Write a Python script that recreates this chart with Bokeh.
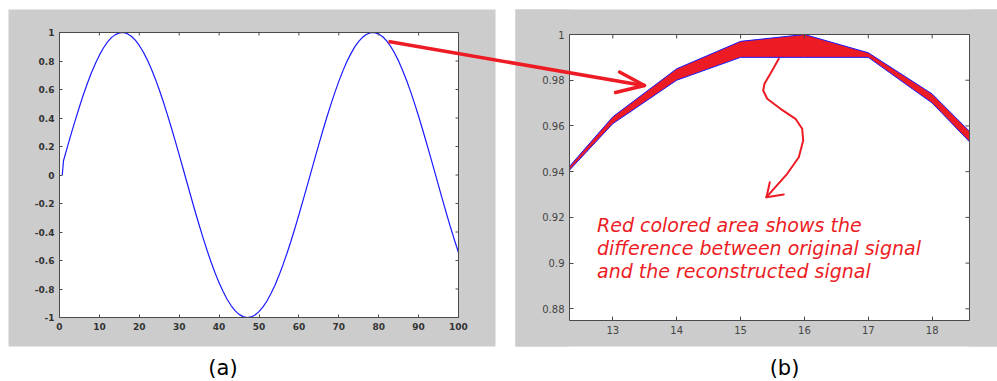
from bokeh.plotting import figure
from bokeh.models import FixedTicker, LinearAxis, Label, Range1d
from bokeh.embed import file_html
from bokeh.resources import INLINE

# ---------------- data ----------------
signal_x = [0.7] + list(range(1, 101))
signal_y = [0.0,
    0.100, 0.199, 0.296, 0.389, 0.479, 0.565, 0.644, 0.717, 0.783, 0.841,
    0.891, 0.932, 0.964, 0.985, 0.997, 1.000, 0.992, 0.974, 0.946, 0.909,
    0.863, 0.808, 0.746, 0.676, 0.598, 0.516, 0.427, 0.335, 0.239, 0.141,
    0.042, -0.058, -0.158, -0.256, -0.351, -0.443, -0.530, -0.612, -0.688, -0.757,
    -0.818, -0.872, -0.916, -0.952, -0.978, -0.994, -1.000, -0.996, -0.983, -0.959,
    -0.926, -0.884, -0.832, -0.773, -0.706, -0.631, -0.551, -0.465, -0.374, -0.279,
    -0.182, -0.083, 0.017, 0.117, 0.215, 0.312, 0.405, 0.494, 0.578, 0.657,
    0.729, 0.794, 0.850, 0.899, 0.938, 0.968, 0.988, 0.999, 0.999, 0.989,
    0.970, 0.941, 0.902, 0.855, 0.799, 0.734, 0.663, 0.585, 0.501, 0.412,
    0.319, 0.223, 0.125, 0.025, -0.075, -0.174, -0.272, -0.367, -0.458, -0.544]

zoom_x = [12, 13, 14, 15, 16, 17, 18, 19]
original_y = [0.932, 0.964, 0.985, 0.997, 1.000, 0.992, 0.974, 0.946]
reconstructed_y = [0.931, 0.961, 0.980, 0.990, 0.990, 0.990, 0.970, 0.941]

left_xticks = [0, 10, 20, 30, 40, 50, 60, 70, 80, 90, 100]
left_xlabels = ["0", "10", "20", "30", "40", "50", "60", "70", "80", "90", "100"]
left_yticks = [-1, -0.8, -0.6, -0.4, -0.2, 0, 0.2, 0.4, 0.6, 0.8, 1]
left_ylabels = ["-1", "-0.8", "-0.6", "-0.4", "-0.2", "0", "0.2", "0.4", "0.6", "0.8", "1"]
right_xticks = [13, 14, 15, 16, 17, 18]
right_xlabels = ["13", "14", "15", "16", "17", "18"]
right_yticks = [0.88, 0.9, 0.92, 0.94, 0.96, 0.98, 1.0]
right_ylabels = ["0.88", "0.9", "0.92", "0.94", "0.96", "0.98", "1"]

note_lines = ["Red colored area shows the",
              "difference between original signal",
              "and the reconstructed signal"]
panel_labels = ["(a)", "(b)"]

# ---------------- layout / styles ----------------
W, H = 997, 381
GRAY = "#cccccc"
AX = "#4a4a4a"
BLUE = "#1a1aff"
RED = "#ed1c24"

PANEL_A = dict(key="a", frame=(59, 458, 32, 317), xr=(0, 100), yr=(-1, 1),
               gray=(8, 495, 9, 346))
PANEL_B = dict(key="b", frame=(569, 969, 34, 320), xr=(12.322, 18.584), yr=(0.8749, 1.0),
               gray=(515, 997, 9, 346))

# canvas in pixel coordinates (y down); panels get their own ranges
p = figure(width=W, height=H, x_range=Range1d(0, W), y_range=Range1d(H, 0),
           output_backend="svg", toolbar_location=None,
           x_axis_location=None, y_axis_location=None,
           min_border_left=0, min_border_right=0, min_border_top=0, min_border_bottom=0)
p.grid.visible = False
p.outline_line_color = None
p.background_fill_color = "white"
p.border_fill_color = "white"


def panel_ranges(panel):
    l, r, t, b = panel["frame"]
    x0, x1 = panel["xr"]
    y0, y1 = panel["yr"]
    kx = (x1 - x0) / (r - l)
    ky = (y1 - y0) / (b - t)
    xrng = Range1d(x0 - l * kx, x0 + (W - l) * kx)
    yrng = Range1d(y1 - (H - t) * ky, y1 + t * ky)
    return xrng, yrng, kx, ky


for panel in (PANEL_A, PANEL_B):
    xrng, yrng, kx, ky = panel_ranges(panel)
    panel["kx"], panel["ky"] = kx, ky
    p.extra_x_ranges["x" + panel["key"]] = xrng
    p.extra_y_ranges["y" + panel["key"]] = yrng

# gray figure backgrounds and white axes areas
for panel in (PANEL_A, PANEL_B):
    gl, gr, gt, gb = panel["gray"]
    p.quad(left=gl, right=gr, top=gt, bottom=gb, fill_color=GRAY, line_color=None)
    l, r, t, b = panel["frame"]
    p.quad(left=l, right=r, top=t, bottom=b, fill_color="white", line_color=None)

# data
p.line(signal_x, signal_y, line_color=BLUE, line_width=1.2,
       x_range_name="xa", y_range_name="ya")
p.varea(x=zoom_x, y1=reconstructed_y, y2=original_y, fill_color=RED, fill_alpha=1,
        x_range_name="xb", y_range_name="yb")
p.line(zoom_x, original_y, line_color=BLUE, line_width=1,
       x_range_name="xb", y_range_name="yb")
p.line(zoom_x, reconstructed_y, line_color=BLUE, line_width=1,
       x_range_name="xb", y_range_name="yb")

# hide what falls outside panel (b)'s axes box
l, r, t, b = PANEL_B["frame"]
gl, gr, gt, gb = PANEL_B["gray"]
p.quad(left=[gl, r], right=[l, gr], top=[gt, gt], bottom=[gb, gb],
       fill_color=GRAY, line_color=None)


def style_axis(ax, ticks, labels, font_size, weight, color, tick_len):
    ax.ticker = FixedTicker(ticks=ticks, minor_ticks=[])
    ax.major_label_overrides = dict(zip(ticks, labels))
    ax.major_tick_in = tick_len
    ax.major_tick_out = 0
    ax.minor_tick_in = 0
    ax.minor_tick_out = 0
    ax.axis_line_color = AX
    ax.major_tick_line_color = AX
    ax.major_label_text_font = "DejaVu Sans"
    ax.major_label_text_font_style = weight
    ax.major_label_text_color = color
    ax.major_label_text_font_size = font_size
    ax.major_label_standoff = 5


def add_axes(panel, xt, xl, yt, yl, font_size, weight, color, tick_len):
    k = panel["key"]
    x0, x1 = panel["xr"]
    y0, y1 = panel["yr"]
    xb = LinearAxis(x_range_name="x" + k, y_range_name="y" + k,
                    fixed_location=y0, bounds=(x0, x1))
    style_axis(xb, xt, xl, font_size, weight, color, tick_len)
    p.add_layout(xb, "below")
    yb = LinearAxis(x_range_name="x" + k, y_range_name="y" + k,
                    fixed_location=x0, bounds=(y0, y1))
    style_axis(yb, yt, yl, font_size, weight, color, tick_len)
    p.add_layout(yb, "left")
    # box edges on top and right, with inward ticks
    dy = tick_len * panel["ky"]
    dx = tick_len * panel["kx"]
    p.segment(x0=[x0, x1], y0=[y1, y1], x1=[x1, x1], y1=[y1, y0], line_color=AX,
              line_width=1, x_range_name="x" + k, y_range_name="y" + k)
    p.segment(x0=xt, y0=[y1] * len(xt), x1=xt, y1=[y1 - dy] * len(xt), line_color=AX,
              x_range_name="x" + k, y_range_name="y" + k)
    p.segment(x0=[x1] * len(yt), y0=yt, x1=[x1 - dx] * len(yt), y1=yt, line_color=AX,
              x_range_name="x" + k, y_range_name="y" + k)


add_axes(PANEL_A, left_xticks, left_xlabels, left_yticks, left_ylabels,
         "9px", "bold", "#333333", 3)
add_axes(PANEL_B, right_xticks, right_xlabels, right_yticks, right_ylabels,
         "10px", "normal", "#444444", 4)

# curvy arrow inside (b)
curve_px = [(778.3, 58.3), (771.7, 70), (764, 83.3), (762.7, 90), (766.7, 98.3), (780, 108.3),
            (795, 118.3), (801.7, 128.3), (802.7, 140), (798.3, 156.7), (786.7, 173.3),
            (773.3, 188.3), (766, 196.7)]
p.line([a for a, _ in curve_px], [c for _, c in curve_px], line_color=RED,
       line_width=2, line_join="round", line_cap="round", level="overlay")
p.multi_line(xs=[[769.3, 766], [783.3, 766]], ys=[[181.7, 196.7], [194, 196.7]],
             line_color=RED, line_width=2, line_cap="round", level="overlay")

# straight arrow from (a) to (b)
p.line([388, 643], [41, 85], line_color=RED, line_width=3.5, level="overlay")
p.multi_line(xs=[[619, 644], [615, 644]], ys=[[71.5, 85], [92, 85]],
             line_color=RED, line_width=3.5, line_cap="round", level="overlay")

# texts
for txt, base in zip(note_lines, [224, 247, 270]):
    p.add_layout(Label(x=596.5, y=base, text=txt, text_font="DejaVu Sans",
                       text_font_style="italic", text_font_size="19px", text_color=RED,
                       text_baseline="alphabetic", text_align="left", level="overlay"))
for txt, cx in zip(panel_labels, [222.5, 784]):
    p.add_layout(Label(x=cx, y=367, text=txt, text_font="DejaVu Sans",
                       text_font_size="21px", text_color="black", text_align="center",
                       text_baseline="middle", level="overlay"))

open("out.html", "w").write(file_html(p, INLINE))
